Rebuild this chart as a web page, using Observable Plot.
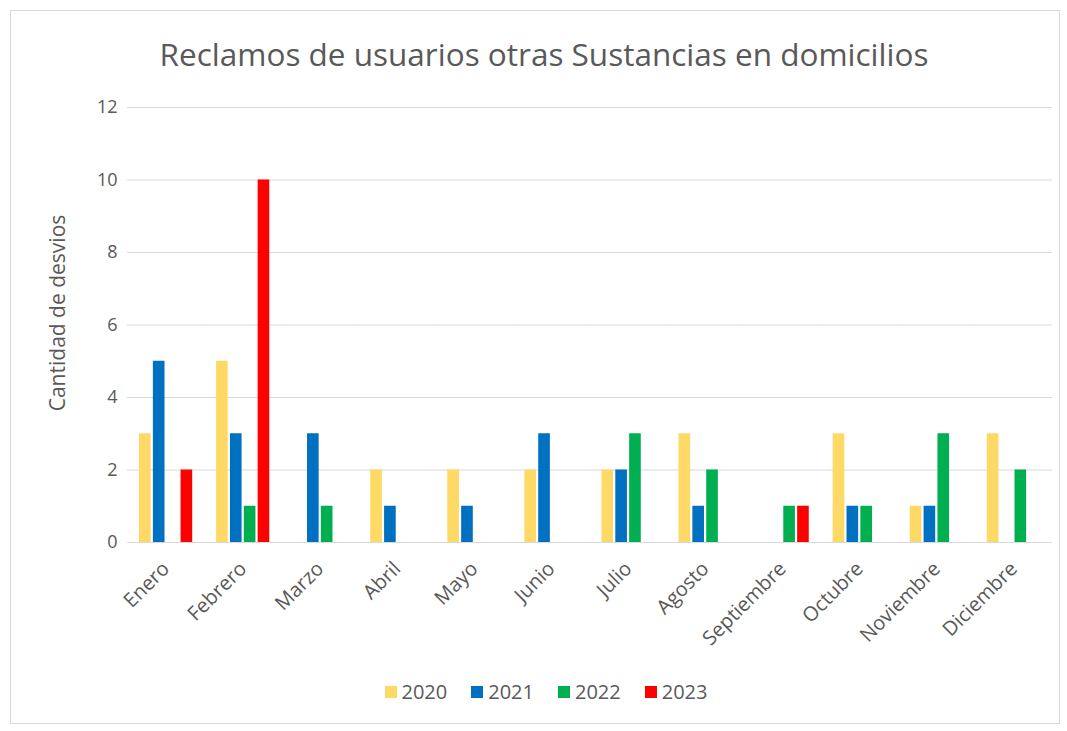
<!DOCTYPE html>
<html><head><meta charset="utf-8">
<script src="https://cdn.jsdelivr.net/npm/d3@7"></script>
<script src="https://cdn.jsdelivr.net/npm/@observablehq/plot@0.6"></script>
<style>
body{margin:0;background:#fff;font-family:"Open Sans",sans-serif;}
#card{position:absolute;left:10px;top:10px;width:1050px;height:714px;border:1px solid #d9d9d9;box-sizing:border-box;background:#fff;}
#title{position:absolute;left:18px;right:0;top:23px;line-height:40px;text-align:center;font-size:31.5px;color:#595959;}
#chart{position:absolute;left:0;top:79px;}
#legend{position:absolute;left:22px;right:0;top:669px;display:flex;justify-content:center;gap:24px;font-size:20px;color:#595959;line-height:24px;}
#legend span.item{display:flex;align-items:center;gap:5px;}
#legend i{display:inline-block;width:12px;height:12px;}
</style>
</head><body>
<div id="card">
  <div id="title">Reclamos de usuarios otras Sustancias en domicilios</div>
  <div id="chart"></div>
  <div id="legend"></div>
</div>
<script>
const months = ["Enero","Febrero","Marzo","Abril","Mayo","Junio","Julio","Agosto","Septiembre","Octubre","Noviembre","Diciembre"];
const years = ["2020","2021","2022","2023"];
const v2020 = [3,5,0,2,2,2,2,3,0,3,1,3];
const v2021 = [5,3,3,1,1,3,2,1,0,1,1,0];
const v2022 = [0,1,1,0,0,0,3,2,1,1,3,2];
const v2023 = [2,10,0,0,0,0,0,0,1,0,0,0];
const yTicks = [0,2,4,6,8,10,12];
const colors = ["#FFD966","#0070C0","#00B050","#FF0000"];

const series = [v2020, v2021, v2022, v2023];
const rows = [];
months.forEach((m, i) => years.forEach((y, j) => rows.push({month: m, year: y, value: series[j][i]})));
const bars = rows.filter(d => d.value > 0);

const W = 1048, ML = 117, MR = 8;
const pIn = 0.31, pOut = 0.143;
const step = (W - ML - MR) / (months.length - pIn + 2 * pOut);
const halfGap = step * pIn / 2;

const chart = Plot.plot({
  width: W, height: 562,
  marginLeft: ML, marginRight: MR, marginTop: 17, marginBottom: 110,
  style: {fontFamily: "Open Sans, sans-serif", fontSize: "18px", color: "#595959", background: "transparent"},
  fx: {domain: months, paddingInner: pIn, paddingOuter: pOut, round: false, label: null, tickRotate: -45, tickSize: 0, tickPadding: 23},
  x: {domain: years, axis: null, paddingInner: 0.16, paddingOuter: 0, round: false},
  y: {domain: [0, 12], ticks: yTicks, tickSize: 0, tickPadding: 22, label: null},
  color: {domain: years, range: colors},
  marks: [
    Plot.ruleY(yTicks, {stroke: "#d9d9d9", strokeWidth: 1, insetLeft: -halfGap, insetRight: -halfGap}),
    Plot.barY(bars, {fx: "month", x: "year", y: "value", fill: "year"})
  ]
});
document.getElementById("chart").appendChild(chart);

const svg = d3.select(chart.tagName.toLowerCase() === "svg" ? chart : chart.querySelector("svg"));
svg.selectAll("g[aria-label^='fx-axis'] text").style("font-size", "20px");
svg.append("text")
  .attr("transform", "translate(47,223) rotate(-90)")
  .attr("text-anchor", "middle")
  .attr("dy", "0.35em")
  .attr("fill", "#595959")
  .style("font-family", "Open Sans, sans-serif")
  .style("font-size", "21px")
  .text("Cantidad de desvios");

const legend = document.getElementById("legend");
years.forEach((y, j) => {
  const s = document.createElement("span");
  s.className = "item";
  s.innerHTML = `<i style="background:${colors[j]}"></i>${y}`;
  legend.appendChild(s);
});
</script>
</body></html>
